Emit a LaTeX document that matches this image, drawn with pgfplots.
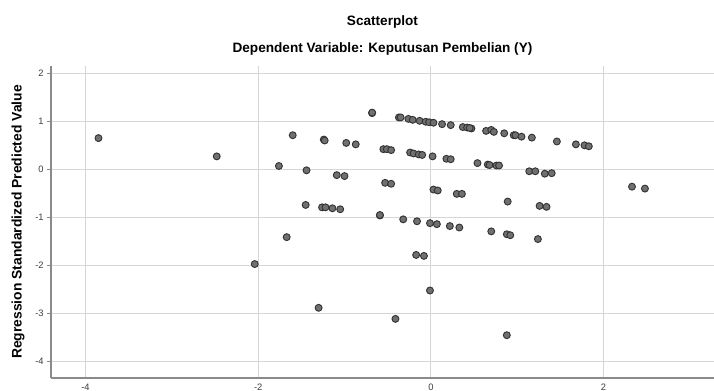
\documentclass[border=0pt]{standalone}
\usepackage{pgfplots}
\pgfplotsset{compat=1.18}
\usepackage{fontspec}
\setmainfont{Liberation Sans}
\definecolor{gridc}{HTML}{D6D6D6}
\definecolor{axc}{HTML}{8A8A8A}
\definecolor{mfill}{HTML}{707070}
\definecolor{medge}{HTML}{333333}
\definecolor{tickc}{HTML}{3C3C3C}
\begin{document}
\begin{tikzpicture}
\begin{axis}[
  at={(0,0)}, anchor=south west,
  scale only axis,
  width=497.25pt, height=234pt,
  xmin=-4.40, xmax=3.28,
  ymin=-4.34, ymax=2.15,
  xtick={-4,-2,0,2},
  ytick={-4,-3,-2,-1,0,1,2},
  grid=major,
  major grid style={color=gridc, line width=0.75pt},
  axis lines*=left,
  axis line style={color=axc, line width=0.9pt, -},
  x tick style={draw=none},
  y tick style={color=axc, line width=0.6pt},
  major tick length=3pt,
  tick align=outside,
  tick label style={font=\fontsize{7}{8}\selectfont, color=tickc},
  /pgf/number format/assume math mode=true,
  xticklabel style={yshift=2pt},
  yticklabel style={xshift=1pt},
  clip=false,
  ylabel={Regression Standardized Predicted Value},
  every axis y label/.style={at={(axis description cs:-0.0498,0.5)}, anchor=center, rotate=90, font=\fontsize{10.4}{12}\selectfont\bfseries, color=black},
]
\addplot[only marks, mark=*, mark size=2.6pt, mark options={fill=mfill, draw=medge, line width=0.7pt}] coordinates {
(-3.85,0.65) (-2.48,0.27) (-2.04,-1.97) (-1.76,0.07) (-1.67,-1.41) (-1.60,0.71)
(-1.45,-0.74) (-1.44,-0.02) (-1.30,-2.88) (-1.26,-0.79) (-1.22,-0.79) (-1.24,0.62)
(-1.23,0.60) (-1.14,-0.81) (-1.09,-0.12) (-1.05,-0.83) (-1.00,-0.14) (-0.98,0.55)
(-0.87,0.52) (-0.68,1.17) (-0.68,1.18) (-0.59,-0.96) (-0.59,-0.95) (-0.55,0.42)
(-0.51,0.42) (-0.53,-0.28) (-0.46,0.40) (-0.46,-0.30) (-0.41,-3.11) (-0.37,1.08)
(-0.35,1.08) (-0.32,-1.04) (-0.26,1.05) (-0.24,0.35) (-0.21,1.03) (-0.20,0.33)
(-0.17,-1.78) (-0.16,-1.08) (-0.14,0.31) (-0.13,1.01) (-0.10,0.30) (-0.08,-1.80)
(-0.06,0.99) (-0.02,0.98) (-0.01,-1.12) (-0.01,-2.52) (0.02,0.27) (0.03,0.97)
(0.03,-0.42) (0.07,-1.14) (0.08,-0.44) (0.13,0.94) (0.18,0.22) (0.22,-1.18)
(0.23,0.92) (0.23,0.21) (0.30,-0.51) (0.33,-1.21) (0.36,-0.51) (0.37,0.88)
(0.42,0.87) (0.47,0.85) (0.45,0.86) (0.54,0.13) (0.64,0.80) (0.66,0.10)
(0.68,0.09) (0.70,0.82) (0.70,-1.29) (0.73,0.78) (0.76,0.08) (0.79,0.08)
(0.85,0.75) (0.88,-1.35) (0.88,-3.45) (0.89,-0.67) (0.92,-1.37) (0.96,0.71)
(0.98,0.71) (1.05,0.68) (1.14,-0.04) (1.17,0.66) (1.21,-0.04) (1.24,-1.45)
(1.26,-0.76) (1.32,-0.09) (1.34,-0.78) (1.40,-0.08) (1.46,0.58) (1.68,0.52)
(1.78,0.50) (1.83,0.48) (2.33,-0.36) (2.48,-0.40)
};
\node[font=\fontsize{10.2}{12}\selectfont\bfseries] at (axis description cs:0.5,1.141) {Scatterplot};
\node[font=\fontsize{10.2}{12}\selectfont\bfseries] at (axis description cs:0.5,1.0545) {Dependent Variable: Keputusan Pembelian (Y)};
\end{axis}
\pgfresetboundingbox
\path[use as bounding box] (-38.25pt,-9.75pt) rectangle (497.25pt,283.5pt);
\end{tikzpicture}
\end{document}
